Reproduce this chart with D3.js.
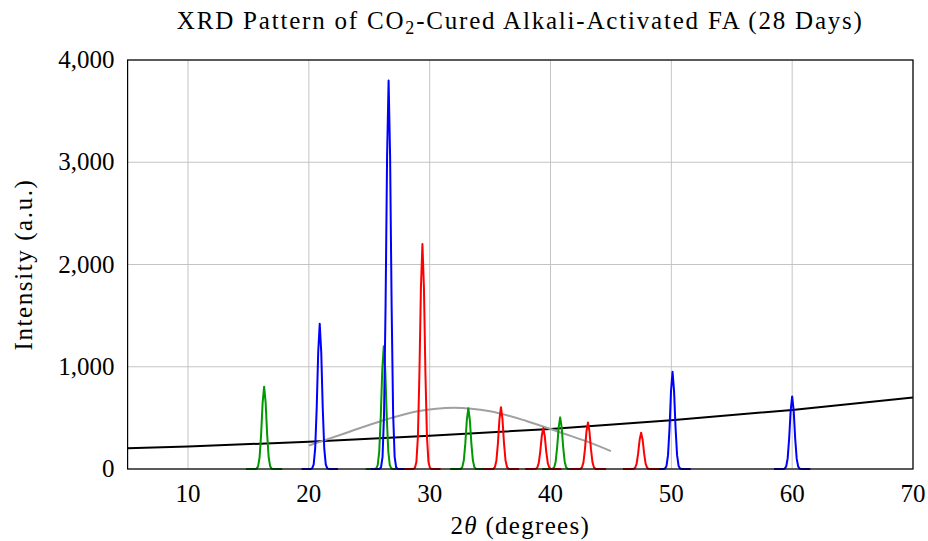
<!DOCTYPE html>
<html>
<head>
<meta charset="utf-8">
<script src="https://cdn.jsdelivr.net/npm/d3@7"></script>
<style>
  body { margin: 0; background: #fff; }
  text { font-family: "Liberation Serif", "DejaVu Serif", serif; fill: #000; }
</style>
</head>
<body>
<div id="chart"></div>
<script>
// tick labels
var xTicks = [10, 20, 30, 40, 50, 60, 70];
var yTicks = [0, 1000, 2000, 3000, 4000];

// crystalline peaks (2theta, intensity)
var blueCenters = [20.9, 26.6, 50.1, 60.0];
var blueHeights = [1420, 3800, 950, 710];
var redCenters = [29.4, 35.9, 39.4, 43.1, 47.5];
var redHeights = [2200, 605, 400, 455, 355];
var greenCenters = [16.3, 26.2, 33.2, 40.8];
var greenHeights = [805, 1200, 595, 505];

// background and amorphous hump
var baseTheta = [5, 10, 20, 30, 40, 50, 60, 70];
var baseIntensity = [202, 220, 267, 324, 392, 476, 578, 700];
var humpTheta = [20, 23, 26, 29, 32, 35, 38, 41, 43, 45];
var humpIntensity = [230, 350, 470, 565, 600, 565, 470, 350, 270, 175];

var margin = { top: 60, right: 15, bottom: 72, left: 127.6 };
var width = 928 - margin.left - margin.right;
var height = 541 - margin.top - margin.bottom;

var svg = d3.select("#chart")
  .append("svg")
  .attr("width", 928)
  .attr("height", 541);

var g = svg.append("g")
  .attr("transform", "translate(" + margin.left + "," + margin.top + ")");

var x = d3.scaleLinear().domain([5, 70]).range([0, width]);
var y = d3.scaleLinear().domain([0, 4000]).range([height, 0]);

// grid
g.selectAll(".gx").data(xTicks).enter().append("line")
  .attr("x1", function(d) { return x(d); })
  .attr("x2", function(d) { return x(d); })
  .attr("y1", 0).attr("y2", height)
  .style("stroke", "#c4c4c4").style("stroke-width", 1);
g.selectAll(".gy").data(yTicks).enter().append("line")
  .attr("x1", 0).attr("x2", width)
  .attr("y1", function(d) { return y(d); })
  .attr("y2", function(d) { return y(d); })
  .style("stroke", "#c4c4c4").style("stroke-width", 1);

g.append("clipPath").attr("id", "clip")
  .append("rect").attr("width", width).attr("height", height + 2).attr("y", -1);

var plot = g.append("g").attr("clip-path", "url(#clip)");

var line = d3.line()
  .x(function(d) { return x(d[0]); })
  .y(function(d) { return y(d[1]); });

// background
plot.append("path")
  .datum(d3.zip(baseTheta, baseIntensity))
  .attr("d", line.curve(d3.curveMonotoneX))
  .style("fill", "none").style("stroke", "#000").style("stroke-width", 2);

plot.append("path")
  .datum(d3.zip(humpTheta, humpIntensity))
  .attr("d", line.curve(d3.curveMonotoneX))
  .style("fill", "none").style("stroke", "#a0a0a0").style("stroke-width", 2);

line.curve(d3.curveLinear);

// each peak: gaussian profile sampled like pgfplots (25 samples)
function peakPoints(c, h) {
  var pts = [];
  var lo = c - 1.5, hi = c + 1.5;
  for (var i = 0; i <= 24; i++) {
    var t = lo + (hi - lo) * i / 24;
    pts.push([t, h * Math.exp(-Math.pow(t - c, 2) / (2 * 0.19 * 0.19))]);
  }
  return pts;
}

function drawPeaks(centers, heights, color) {
  plot.selectAll(null)
    .data(d3.zip(centers, heights))
    .enter().append("path")
    .attr("d", function(d) { return line(peakPoints(d[0], d[1])); })
    .style("fill", "none")
    .style("stroke", color)
    .style("stroke-width", 2)
    .style("stroke-linejoin", "round");
}

drawPeaks(greenCenters, greenHeights, "#009900");
drawPeaks(blueCenters, blueHeights, "#0000ff");
drawPeaks(redCenters, redHeights, "#ff0000");

// frame
g.append("rect")
  .attr("width", width).attr("height", height)
  .style("fill", "none").style("stroke", "#000").style("stroke-width", 1.2);

// tick labels
g.selectAll(".xl").data(xTicks).enter().append("text")
  .attr("x", function(d) { return x(d); })
  .attr("y", height + 33)
  .attr("text-anchor", "middle")
  .style("font-size", "25px")
  .text(function(d) { return d; });

g.selectAll(".yl").data(yTicks).enter().append("text")
  .attr("x", -13)
  .attr("y", function(d) { return y(d) + 8; })
  .attr("text-anchor", "end")
  .style("font-size", "25px")
  .text(function(d) { return d3.format(",")(d); });

// axis labels
var xl = g.append("text")
  .attr("x", width / 2)
  .attr("y", height + 65)
  .attr("text-anchor", "middle")
  .style("font-size", "25px")
  .style("letter-spacing", "1.3px");
xl.append("tspan").text("2");
xl.append("tspan").style("font-style", "italic").text("θ");
xl.append("tspan").text(" (degrees)");

g.append("text")
  .attr("transform", "translate(" + (-96) + "," + (height / 2) + ") rotate(-90)")
  .attr("text-anchor", "middle")
  .style("font-size", "25px")
  .style("letter-spacing", "1.6px")
  .text("Intensity (a.u.)");

// title
var title = svg.append("text")
  .attr("x", margin.left + width / 2)
  .attr("y", 29)
  .attr("text-anchor", "middle")
  .style("font-size", "25px")
  .style("letter-spacing", "1.8px");
title.append("tspan").text("XRD Pattern of CO");
title.append("tspan").attr("dy", 5).style("font-size", "18px").text("2");
title.append("tspan").attr("dy", -5).text("-Cured Alkali-Activated FA (28 Days)");
</script>
</body>
</html>
